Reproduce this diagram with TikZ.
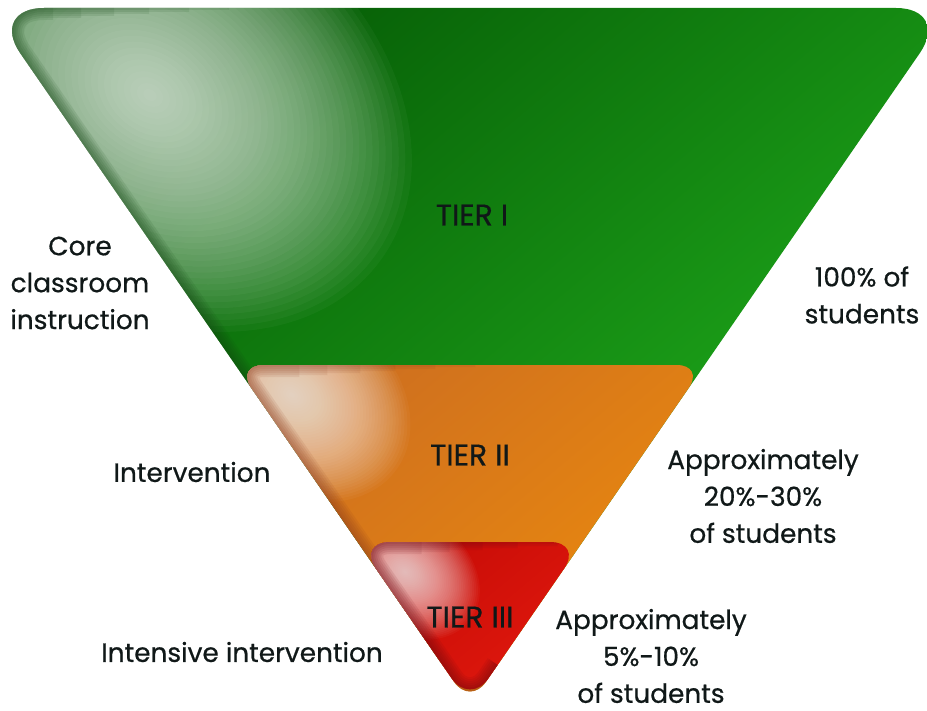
\documentclass[tikz,border=0pt]{standalone}
\usepackage{fontspec}
\setmainfont{Poppins}
\newfontfamily\labelfont{Poppins}[FakeBold=0.6]
\usetikzlibrary{positioning}
\definecolor{greenA}{RGB}{6,92,6}
\definecolor{greenB}{RGB}{34,180,30}
\definecolor{greenR}{RGB}{20,70,20}
\definecolor{orangeA}{RGB}{198,104,36}
\definecolor{orangeB}{RGB}{244,146,8}
\definecolor{orangeR}{RGB}{140,60,30}
\definecolor{redA}{RGB}{175,0,0}
\definecolor{redB}{RGB}{248,36,20}
\definecolor{redR}{RGB}{110,10,20}
\definecolor{ink}{RGB}{16,24,24}
\tikzset{x=0.2mm,y=-0.2mm,
  tiername/.style={font=\labelfont\fontsize{17}{20}\selectfont, text=ink},
  note/.style={align=center, font=\labelfont\fontsize{15}{21}\selectfont, text=ink},
}
% #1 rounding, #2 top y, #3 dark, #4 light, #5 rim, #6 glow centre, #7 glow radius
\newcommand{\tier}[7]{%
  \begin{scope}
    \clip[rounded corners=#1] ({470-0.69*(705-#2)},#2) -- ({470+0.69*(705-#2)},#2) -- (apex) -- cycle;
    \shade[top color=#3, bottom color=#4, shading angle=40] (0,#2) rectangle (927,710);
    \foreach \k in {1,...,40}
      \fill[white, opacity=0.035, rotate around={-35:(#6)}] (#6) ellipse [x radius={1.35*#7*\k*0.005mm}, y radius={#7*\k*0.005mm}];
    \foreach \w/\s in {4/240,8/200,12/160,16/125,20/92,24/64}
      \draw[rounded corners=#1, line width=\w*0.2mm, #5, opacity=0.1] ({470-0.69*(705-#2)+\s},#2) -- ({470-0.69*(705-#2)},#2) -- (apex) -- (497.6,665);
  \end{scope}
}

\begin{document}
\begin{tikzpicture}
  \useasboundingbox (0,0) rectangle (927,710);
  \coordinate (apex) at (470,705);

  \tier{11mm}{8}{greenA}{greenB}{greenR}{150,95}{210}
  \tier{5.6mm}{365}{orangeA}{orangeB}{orangeR}{292,395}{95}
  \tier{6.5mm}{542}{redA}{redB}{redR}{405,572}{60}

  \node[tiername] (tierI) at (472,215) {TIER I};
  \node[tiername] (tierII) at (470,455) {TIER II};
  \node[tiername] (tierIII) at (470,617) {TIER III};

  \node[note] (core) at (80,283) {Core\\classroom\\instruction};
  \node[note] (all) at (862,295) {100\% of\\students};
  \node[note] (interv) at (192,472) {Intervention};
  \node[note] (someA) at (763,496) {Approximately\\20\%-30\%\\of students};
  \node[note] (intens) at (242,652) {Intensive intervention};
  \node[note] (someB) at (651,656) {Approximately\\5\%-10\%\\of students};
\end{tikzpicture}
\end{document}
